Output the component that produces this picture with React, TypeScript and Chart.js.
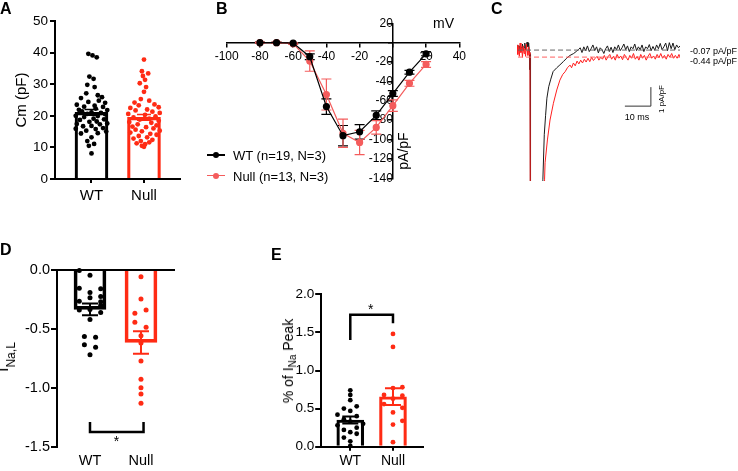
import React, { useEffect, useRef } from 'react';
import { Chart, registerables } from 'chart.js';

Chart.register(...registerables);

const FONT = "'Liberation Sans', Arial, Helvetica, sans-serif";
Chart.defaults.font.family = FONT;
Chart.defaults.color = '#000';

const BLACK = '#000000';
const RED = '#ff2b14';
const SALMON = '#f45c5c';
const TRACE_RED = '#ff1f1f';

const GROUPS = ['WT', 'Null'];

// ---------- Panel A : Cm (pF) ----------
const cmWT = [
  39.6, 39.1, 38.5, 32.4, 31.7, 29.8, 29.1, 27.1, 26.5, 25.9,
  25.6, 24.8, 24.4, 24.1, 23.5, 23.2, 22.9, 22.8, 22.3, 21.9,
  21.8, 21.4, 21.1, 20.9, 20.6, 20.5, 20.0, 19.9, 19.6, 19.1,
  18.9, 18.7, 18.2, 18.1, 17.6, 17.4, 17.3, 16.8, 16.7, 16.1,
  15.9, 15.8, 15.3, 15.0, 14.4, 14.5, 13.2, 12.0, 11.1, 10.5,
  8.1,
];
const cmWTOff = [
  -0.06, 0.02, 0.10, -0.04, 0.04, -0.08, 0.06, -0.10, 0.12, 0.20,
  -0.20, 0.14, -0.06, 0.26, -0.28, 0.06, -0.14, 0.22, 0.08, -0.24,
  0.30, -0.18, 0.00, 0.18, -0.08, 0.26, -0.30, 0.12, -0.14, 0.04,
  0.24, -0.22, 0.10, -0.04, 0.30, -0.28, 0.16, 0.00, -0.16, 0.22,
  -0.30, 0.08, -0.10, 0.28, -0.20, 0.12, 0.00, -0.08, 0.05, -0.05,
  0.00,
];
const cmNull = [
  37.8, 34.1, 33.4, 32.6, 31.4, 30.3, 29.1, 27.6, 25.3, 24.8,
  24.2, 23.6, 23.3, 22.7, 22.5, 22.0, 21.7, 21.3, 20.9, 20.6,
  20.3, 19.8, 19.5, 19.1, 18.8, 18.4, 18.0, 17.8, 17.3, 17.0,
  16.6, 16.4, 16.0, 15.6, 15.3, 15.1, 14.7, 14.3, 14.0, 13.6,
  13.2, 12.8, 12.4, 12.0, 11.6, 11.3, 11.0, 10.5, 10.2,
];
const cmNullOff = [
  0.00, -0.04, 0.08, -0.02, 0.02, -0.08, 0.04, 0.00, -0.06, 0.10,
  -0.18, 0.20, -0.10, 0.28, -0.26, 0.06, -0.16, 0.16, 0.30, -0.30,
  0.02, 0.22, -0.20, 0.10, -0.08, 0.28, -0.28, 0.14, -0.12, 0.24,
  -0.22, 0.04, 0.18, -0.16, 0.30, -0.04, -0.26, 0.12, 0.24, -0.10,
  0.06, -0.20, 0.16, -0.06, 0.10, -0.14, 0.02, -0.04, 0.00,
];
const cmMeans = [21.1, 19.5];
const cmSems = [0.9, 0.9];

// ---------- Panel B : I-V curve ----------
const voltages = [-80, -70, -60, -50, -40, -30, -20, -10, 0, 10, 20];
const ivWT = [0, 0, -0.5, -14.5, -66, -96, -92, -75, -52.5, -30.5, -11.5];
const ivWTErr = [0.5, 0.5, 0.5, 3, 8, 10.5, 7.5, 4.5, 3, 2, 2];
const ivNull = [0, 0, -1, -19, -53.5, -93.5, -103, -87.5, -65, -42, -22.5];
const ivNullErr = [0.5, 0.5, 0.8, 10.5, 16, 14.5, 12.5, 7, 6, 3, 3];
const ivXTicks = [-100, -80, -60, -40, -20, 0, 20, 40];
const ivYTicks = [20, 0, -20, -40, -60, -80, -100, -120, -140];

// ---------- Panel C : late current traces (t ms, pA/pF) ----------
const traceWT: [number, number][] = [
  [0, 0.05], [0.3, 0.2], [0.6, -0.1], [0.9, 0.15], [1.2, -0.15], [1.5, 0.1], [1.8, -0.05], [2.1, 0.25],
  [2.4, -0.1], [2.7, 0.05], [3.0, 0.3], [3.3, -0.05], [3.6, 0.2], [3.9, 0.35], [4.2, 0.1], [4.5, 0.3],
  [4.8, -0.2], [4.95, -1.1], [5.05, -0.3], [5.2, -12], [9.6, -12],
  [9.95, -6.9], [10.5, -4.5], [11.0, -3.5], [11.5, -2.6], [12.2, -2.0], [13.0, -1.6], [13.9, -1.2],
  [15.3, -1.0], [16.5, -0.85], [17.8, -0.68], [19.1, -0.5], [20.4, -0.35], [21.8, -0.25], [23.0, -0.12],
  [23.6, -0.05], [24.3, 0.05], [25.0, -0.2], [25.7, 0.1], [26.4, -0.1], [27.1, 0.15], [27.8, -0.15],
  [28.5, 0.0], [29.2, 0.2], [29.9, -0.1], [30.6, 0.1], [31.3, -0.22], [32.0, 0.05], [32.7, -0.05],
  [33.4, -0.25], [34.1, 0.0], [34.8, 0.15], [35.5, -0.15], [36.2, 0.08], [36.9, -0.2], [37.6, 0.1],
  [38.3, -0.05], [39.0, 0.2], [39.7, -0.1], [40.4, 0.05], [41.1, 0.25], [41.8, -0.05], [42.5, 0.15],
  [43.2, -0.15], [43.9, 0.1], [44.6, 0.0], [45.3, 0.25], [46.0, -0.1], [46.7, 0.1], [47.4, -0.05],
  [48.1, 0.2], [48.8, -0.15], [49.5, 0.1], [50.2, 0.0], [50.9, 0.22], [51.6, -0.1], [52.3, 0.12],
  [53.0, -0.08], [53.7, 0.2], [54.4, 0.0], [55.1, 0.28], [55.8, -0.05], [56.5, 0.1], [57.2, 0.3],
  [57.9, -0.1], [58.6, 0.32], [59.3, 0.0], [60.0, 0.3], [60.7, -0.05], [61.4, 0.2], [62.1, 0.05], [62.7, 0.15],
];
const traceNull: [number, number][] = [
  [0, 0.2], [0.3, -0.3], [0.6, 0.1], [0.9, -0.4], [1.2, 0.3], [1.5, -0.2], [1.8, 0.05], [2.1, -0.45],
  [2.4, 0.15], [2.7, -0.25], [3.0, 0.0], [3.3, -0.4], [3.6, 0.25], [3.9, -0.1], [4.2, -0.35], [4.5, 0.1],
  [4.8, -0.3], [5.0, -0.2], [5.15, -12], [10.3, -12],
  [10.6, -6.9], [10.8, -6.0], [11.7, -4.8], [12.7, -3.75], [14.0, -2.87], [15.3, -2.17], [16.5, -1.65],
  [17.6, -1.35], [18.5, -1.21], [19.4, -1.0], [20.4, -0.86], [21.0, -1.0], [21.7, -0.75], [22.4, -0.9],
  [23.1, -0.65], [23.8, -0.8], [24.5, -0.6], [25.2, -0.75], [25.9, -0.55], [26.6, -0.7], [27.3, -0.5],
  [28.0, -0.68], [28.7, -0.45], [29.4, -0.62], [30.1, -0.5], [30.8, -0.4], [31.5, -0.6], [32.2, -0.45],
  [32.9, -0.55], [33.6, -0.35], [34.3, -0.6], [35.0, -0.42], [35.7, -0.3], [36.4, -0.55], [37.1, -0.4],
  [37.8, -0.6], [38.5, -0.3], [39.2, -0.5], [39.9, -0.38], [40.6, -0.58], [41.3, -0.3], [42.0, -0.45],
  [42.7, -0.6], [43.4, -0.35], [44.1, -0.5], [44.8, -0.25], [45.5, -0.55], [46.2, -0.4], [46.9, -0.6],
  [47.6, -0.3], [48.3, -0.5], [49.0, -0.35], [49.7, -0.6], [50.4, -0.4], [51.1, -0.25], [51.8, -0.5],
  [52.5, -0.38], [53.2, -0.55], [53.9, -0.3], [54.6, -0.48], [55.3, -0.25], [56.0, -0.5], [56.7, -0.35],
  [57.4, -0.55], [58.1, -0.3], [58.8, -0.45], [59.5, -0.25], [60.2, -0.5], [60.9, -0.35], [61.6, -0.5],
  [62.3, -0.3], [62.7, -0.45],
];
const lateLevels = [-0.07, -0.44];
const lateLabels = ['-0.07 pA/pF', '-0.44 pA/pF'];
const scaleBarMs = 10;
const scaleBarAmp = 1;

// ---------- Panel D : I Na,L ----------
const inalWT = [-0.005, -0.045, -0.155, -0.16, -0.19, -0.225, -0.235, -0.265, -0.27, -0.30,
  -0.335, -0.34, -0.36, -0.42, -0.565, -0.57, -0.635, -0.655, -0.72];
const inalWTOff = [-0.21, 0, -0.21, 0.21, 0, 0.21, 0, -0.21, 0.21, 0.21,
  0, -0.21, 0.21, 0, -0.11, 0.11, -0.11, 0.11, 0];
const inalNull = [-0.057, -0.246, -0.34, -0.368, -0.444, -0.487, -0.558, -0.62, -0.773, -0.928,
  -0.999, -1.053, -1.132];
const inalNullOff = [0, 0, 0.1, -0.12, -0.12, 0.1, 0, 0, 0, 0, 0, 0, 0];
const inalMeans = [-0.334, -0.615];
const inalSems = [0.05, 0.095];

// ---------- Panel E : % of INa peak ----------
const pctWT = [0.74, 0.68, 0.61, 0.53, 0.50, 0.47, 0.42, 0.40, 0.36, 0.33,
  0.30, 0.28, 0.25, 0.22, 0.19, 0.17, 0.12, 0.07, 0.01];
const pctWTOff = [0, 0, 0, 0.15, -0.15, 0, -0.3, 0.15, -0.15, 0,
  0.3, -0.3, 0.15, -0.15, 0, 0.15, -0.15, 0, 0];
const pctNull = [1.48, 1.31, 0.78, 0.77, 0.68, 0.67, 0.63, 0.56, 0.51, 0.45, 0.34, 0.29, 0.06];
const pctNullOff = [0, 0, 0.22, 0, -0.21, 0.22, 0, -0.21, 0.22, 0, 0.22, 0, 0];
const pctMeans = [0.35, 0.656];
const pctSems = [0.045, 0.11];

// ---------- helpers ----------
type BarOpts = {
  wt: number[]; wtOff: number[]; nu: number[]; nuOff: number[];
  means: number[]; sems: number[];
  xMin: number; xMax: number; yMin: number; yMax: number; yStep: number; yDigits: number;
  pad: { left: number; right: number; top: number; bottom: number };
  yWidth: number; xHeight: number;
  tickSize: number; labelSize: number;
  yTickLen: number; yPad: number; xTickLen: number; xPad: number; xTicks: boolean; xBorder: boolean;
  axisWidth: number; barThickness: number; barBorder: number; pointRadius: number; cap: number; errWidth: number;
  zeroLine?: boolean;
  bracket?: number[][]; starAt?: number[];
  yTitle?: any;
};

function barConfig(o: BarOpts): any {
  const scatter = (vals: number[], offs: number[], gi: number, color: string) => ({
    type: 'scatter',
    data: vals.map((v, i) => ({ x: gi + (offs[i] ?? 0), y: v })),
    backgroundColor: color,
    borderColor: color,
    borderWidth: 0,
    pointRadius: o.pointRadius,
    pointHoverRadius: o.pointRadius,
    clip: false,
  });
  return {
    type: 'bar',
    data: {
      datasets: [
        scatter(o.wt, o.wtOff, 0, BLACK),
        scatter(o.nu, o.nuOff, 1, RED),
        {
          type: 'bar',
          data: o.means.map((m, i) => ({ x: i, y: m })),
          backgroundColor: 'rgba(255,255,255,0)',
          borderColor: [BLACK, RED],
          borderWidth: o.barBorder,
          borderSkipped: 'start',
          barThickness: o.barThickness,
          grouped: false,
        },
      ],
    },
    options: {
      responsive: false,
      animation: false,
      devicePixelRatio: 1,
      events: [],
      layout: { padding: o.pad },
      plugins: { legend: { display: false }, tooltip: { enabled: false } },
      scales: {
        x: {
          type: 'linear',
          offset: false,
          min: o.xMin,
          max: o.xMax,
          afterFit: (s: any) => { s.height = o.xHeight; },
          afterBuildTicks: (s: any) => { s.ticks = GROUPS.map((_, i) => ({ value: i })); },
          ticks: {
            callback: (v: any) => GROUPS[v] ?? '',
            font: { size: o.labelSize },
            color: '#000',
            padding: o.xPad,
            maxRotation: 0,
            autoSkip: false,
          },
          grid: {
            display: o.xTicks,
            offset: false,
            drawOnChartArea: false,
            drawTicks: o.xTicks,
            tickLength: o.xTickLen,
            color: '#000',
            lineWidth: o.axisWidth,
          },
          border: { display: o.xBorder, color: '#000', width: o.axisWidth },
        },
        y: {
          type: 'linear',
          min: o.yMin,
          max: o.yMax,
          afterFit: (s: any) => { s.width = o.yWidth; },
          ticks: {
            stepSize: o.yStep,
            callback: (v: any) => Number(v).toFixed(o.yDigits),
            font: { size: o.tickSize },
            color: '#000',
            padding: o.yPad,
          },
          grid: {
            drawOnChartArea: false,
            drawTicks: true,
            tickLength: o.yTickLen,
            color: '#000',
            lineWidth: o.axisWidth,
          },
          border: { display: true, color: '#000', width: o.axisWidth },
          title: o.yTitle ?? { display: false },
        },
      },
    },
    plugins: [
      {
        id: 'barOverlay',
        afterDatasetsDraw(chart: any) {
          const { ctx, scales, chartArea } = chart;
          const xs = scales.x;
          const ys = scales.y;
          ctx.save();
          if (o.zeroLine) {
            const y0 = ys.getPixelForValue(0);
            ctx.strokeStyle = '#000';
            ctx.lineWidth = o.axisWidth;
            ctx.beginPath();
            ctx.moveTo(chartArea.left, y0);
            ctx.lineTo(chartArea.right, y0);
            ctx.stroke();
          }
          o.means.forEach((m, i) => {
            const px = xs.getPixelForValue(i);
            const y1 = ys.getPixelForValue(m - o.sems[i]);
            const y2 = ys.getPixelForValue(m + o.sems[i]);
            ctx.strokeStyle = i === 0 ? BLACK : RED;
            ctx.lineWidth = o.errWidth;
            ctx.beginPath();
            ctx.moveTo(px, y1);
            ctx.lineTo(px, y2);
            ctx.moveTo(px - o.cap / 2, y1);
            ctx.lineTo(px + o.cap / 2, y1);
            ctx.moveTo(px - o.cap / 2, y2);
            ctx.lineTo(px + o.cap / 2, y2);
            ctx.stroke();
          });
          if (o.bracket) {
            ctx.strokeStyle = '#000';
            ctx.lineWidth = 2.5;
            ctx.lineJoin = 'miter';
            ctx.beginPath();
            o.bracket.forEach((p, k) => {
              const px = xs.getPixelForValue(p[0]);
              const py = ys.getPixelForValue(p[1]);
              if (k === 0) ctx.moveTo(px, py); else ctx.lineTo(px, py);
            });
            ctx.stroke();
          }
          if (o.starAt) {
            ctx.fillStyle = '#000';
            ctx.font = `14px ${FONT}`;
            ctx.textAlign = 'center';
            ctx.textBaseline = 'alphabetic';
            ctx.fillText('*', xs.getPixelForValue(o.starAt[0]), ys.getPixelForValue(o.starAt[1]) + 8);
          }
          ctx.restore();
        },
      },
    ],
  };
}

function ivConfig(): any {
  const mk = (vals: number[], errs: number[], color: string, label: string) => ({
    label,
    data: voltages.map((v, i) => ({ x: v, y: vals[i] })),
    errors: errs,
    borderColor: color,
    backgroundColor: color,
    pointBackgroundColor: color,
    pointBorderColor: color,
    borderWidth: 1.2,
    pointRadius: 3,
    pointHoverRadius: 3,
    tension: 0,
    clip: false,
  });
  return {
    type: 'line',
    data: {
      datasets: [
        mk(ivWT, ivWTErr, BLACK, 'WT (n=19, N=3)'),
        mk(ivNull, ivNullErr, SALMON, 'Null (n=13, N=3)'),
      ],
    },
    options: {
      responsive: false,
      animation: false,
      devicePixelRatio: 1,
      events: [],
      layout: { padding: { left: 36.7, right: 30.7, top: 23.3, bottom: 21.7 } },
      plugins: { legend: { display: false }, tooltip: { enabled: false } },
      scales: {
        x: {
          type: 'linear',
          position: { y: 0 },
          min: ivXTicks[0],
          max: ivXTicks[ivXTicks.length - 1],
          afterFit: (s: any) => { s.height = 0; },
          afterBuildTicks: (s: any) => { s.ticks = ivXTicks.map((v) => ({ value: v })); },
          ticks: {
            callback: (v: any) => (v === 0 ? '' : String(v)),
            font: { size: 12 },
            color: '#000',
            padding: 2.5,
            maxRotation: 0,
            autoSkip: false,
          },
          grid: { drawOnChartArea: false, drawTicks: true, tickLength: 4, color: '#000', lineWidth: 1.5 },
          border: { display: true, color: '#000', width: 1.5 },
        },
        y: {
          type: 'linear',
          position: { x: 0 },
          min: ivYTicks[ivYTicks.length - 1],
          max: ivYTicks[0],
          afterFit: (s: any) => { s.width = 0; },
          afterBuildTicks: (s: any) => { s.ticks = ivYTicks.map((v) => ({ value: v })); },
          ticks: {
            callback: (v: any) => (v === 0 ? '' : String(v)),
            font: { size: 12 },
            color: '#000',
            padding: 1,
            autoSkip: false,
          },
          grid: { drawOnChartArea: false, drawTicks: true, tickLength: 4, color: '#000', lineWidth: 1.5 },
          border: { display: true, color: '#000', width: 1.5 },
        },
      },
    },
    plugins: [
      {
        id: 'errorBars',
        beforeDatasetsDraw(chart: any) {
          const { ctx } = chart;
          const ys = chart.scales.y;
          ctx.save();
          chart.data.datasets.forEach((ds: any, di: number) => {
            const meta = chart.getDatasetMeta(di);
            ctx.strokeStyle = ds.borderColor;
            ctx.lineWidth = 1.2;
            meta.data.forEach((pt: any, i: number) => {
              const v = ds.data[i].y;
              const e = ds.errors[i];
              const y1 = ys.getPixelForValue(v - e);
              const y2 = ys.getPixelForValue(v + e);
              ctx.beginPath();
              ctx.moveTo(pt.x, y1);
              ctx.lineTo(pt.x, y2);
              ctx.moveTo(pt.x - 5, y1);
              ctx.lineTo(pt.x + 5, y1);
              ctx.moveTo(pt.x - 5, y2);
              ctx.lineTo(pt.x + 5, y2);
              ctx.stroke();
            });
          });
          ctx.restore();
        },
      },
    ],
  };
}

function traceConfig(): any {
  const tEnd = traceWT[traceWT.length - 1][0];
  const barX = 51.5;
  const barY = -3.02;
  return {
    type: 'line',
    data: {
      datasets: [
        {
          data: [{ x: 0.4, y: lateLevels[0] }, { x: tEnd, y: lateLevels[0] }],
          borderColor: '#666666', borderWidth: 1, borderDash: [5, 3], pointRadius: 0,
        },
        {
          data: [{ x: 0.4, y: lateLevels[1] }, { x: tEnd, y: lateLevels[1] }],
          borderColor: '#ff6060', borderWidth: 1, borderDash: [5, 3], pointRadius: 0,
        },
        {
          data: [
            { x: barX - scaleBarMs, y: barY },
            { x: barX, y: barY },
            { x: barX, y: barY + scaleBarAmp },
          ],
          borderColor: '#333333', borderWidth: 1, pointRadius: 0, tension: 0,
        },
        {
          data: traceNull.map(([x, y]) => ({ x, y })),
          borderColor: TRACE_RED, borderWidth: 1, pointRadius: 0, tension: 0,
        },
        {
          data: traceWT.map(([x, y]) => ({ x, y })),
          borderColor: '#1a1a1a', borderWidth: 1, pointRadius: 0, tension: 0,
        },
      ],
    },
    options: {
      responsive: false,
      animation: false,
      devicePixelRatio: 1,
      events: [],
      layout: { padding: { left: 27, right: 58, top: 40, bottom: 19 } },
      plugins: { legend: { display: false }, tooltip: { enabled: false } },
      scales: {
        x: { type: 'linear', min: 0, max: tEnd, display: false },
        y: { type: 'linear', min: -6.96, max: 0.46, display: false },
      },
    },
  };
}

function ChartBox(props: { left: number; top: number; width: number; height: number; config: () => any }) {
  const ref = useRef<HTMLCanvasElement | null>(null);
  useEffect(() => {
    if (!ref.current) return;
    const chart = new Chart(ref.current, props.config());
    return () => chart.destroy();
  }, []);
  return (
    <div style={{ position: 'absolute', left: props.left, top: props.top, width: props.width, height: props.height }}>
      <canvas
        ref={ref}
        width={props.width}
        height={props.height}
        style={{ width: props.width, height: props.height, display: 'block' }}
      />
    </div>
  );
}

function Txt(props: {
  x: number; y: number; size: number; bold?: boolean; color?: string;
  align?: 'left' | 'center' | 'right'; rotate?: boolean; children: any;
}) {
  const { x, y, size, bold, color = '#000', align = 'left', rotate } = props;
  const tx = align === 'left' ? '0' : align === 'center' ? '-50%' : '-100%';
  const transform = rotate ? 'translate(-50%,-50%) rotate(-90deg)' : `translate(${tx},-50%)`;
  return (
    <div
      style={{
        position: 'absolute', left: x, top: y, fontFamily: FONT, fontSize: size,
        fontWeight: bold ? 'bold' : 'normal', color, lineHeight: 1, whiteSpace: 'nowrap', transform,
      }}
    >
      {props.children}
    </div>
  );
}

function LegendItem(props: { x: number; y: number; color: string; text: string }) {
  const { x, y, color, text } = props;
  return (
    <>
      <div style={{ position: 'absolute', left: x, top: y - 0.6, width: 18, height: 1.2, background: color }} />
      <div style={{ position: 'absolute', left: x + 6, top: y - 3, width: 6, height: 6, borderRadius: 3, background: color }} />
      <Txt x={x + 26} y={y} size={13}>{text}</Txt>
    </>
  );
}

export default function App() {
  const configA = () =>
    barConfig({
      wt: cmWT, wtOff: cmWTOff, nu: cmNull, nuOff: cmNullOff, means: cmMeans, sems: cmSems,
      xMin: -0.695, xMax: 1.686, yMin: 0, yMax: 50, yStep: 10, yDigits: 0,
      pad: { left: 0, right: 10, top: 21, bottom: 0 }, yWidth: 55, xHeight: 31,
      tickSize: 13.5, labelSize: 15, yTickLen: 5, yPad: 2, xTickLen: 4, xPad: 4, xTicks: true, xBorder: true,
      axisWidth: 2, barThickness: 33, barBorder: 2.5, pointRadius: 2.4, cap: 14, errWidth: 1.5,
      yTitle: { display: true, text: 'Cm (pF)', font: { size: 15 }, color: '#000', padding: { top: 13, bottom: 0 } },
    });
  const configD = () =>
    barConfig({
      wt: inalWT, wtOff: inalWTOff, nu: inalNull, nuOff: inalNullOff, means: inalMeans, sems: inalSems,
      xMin: -0.647, xMax: 1.667, yMin: -1.5, yMax: 0, yStep: 0.5, yDigits: 1,
      pad: { left: 0, right: 15, top: 30, bottom: 0 }, yWidth: 57, xHeight: 24.3,
      tickSize: 14.5, labelSize: 14.5, yTickLen: 6, yPad: 1, xTickLen: 0, xPad: 6, xTicks: false, xBorder: false,
      axisWidth: 2, barThickness: 32, barBorder: 3, pointRadius: 2.5, cap: 16, errWidth: 2,
      zeroLine: true,
      bracket: [[0, -1.29], [0, -1.375], [1.05, -1.375], [1.05, -1.29]],
      starAt: [0.52, -1.43],
    });
  const configE = () =>
    barConfig({
      wt: pctWT, wtOff: pctWTOff, nu: pctNull, nuOff: pctNullOff, means: pctMeans, sems: pctSems,
      xMin: -0.693, xMax: 1.71, yMin: 0, yMax: 2, yStep: 0.5, yDigits: 1,
      pad: { left: 0, right: 16.7, top: 54.3, bottom: 0 }, yWidth: 80.7, xHeight: 24.3,
      tickSize: 13.5, labelSize: 14, yTickLen: 5.5, yPad: 1, xTickLen: 4, xPad: 2, xTicks: true, xBorder: true,
      axisWidth: 2, barThickness: 27, barBorder: 2.5, pointRadius: 2.4, cap: 16, errWidth: 2,
      bracket: [[0, 1.4], [0, 1.73], [1, 1.73], [1, 1.62]],
      starAt: [0.48, 1.84],
    });

  return (
    <div style={{ position: 'absolute', left: 0, top: 0, width: 738, height: 471, background: '#fff', overflow: 'hidden' }}>
      <ChartBox left={0} top={0} width={190} height={210} config={configA} />
      <ChartBox left={190} top={0} width={300} height={200} config={ivConfig} />
      <ChartBox left={490} top={0} width={248} height={200} config={traceConfig} />
      <ChartBox left={0} top={240} width={190} height={231} config={configD} />
      <ChartBox left={240} top={240} width={200} height={231} config={configE} />

      {/* panel letters */}
      <Txt x={0} y={9} size={16} bold>A</Txt>
      <Txt x={216} y={8.5} size={16} bold>B</Txt>
      <Txt x={491} y={9} size={16} bold>C</Txt>
      <Txt x={0} y={250} size={16} bold>D</Txt>
      <Txt x={271} y={255} size={16} bold>E</Txt>

      {/* panel B texts */}
      <Txt x={433} y={22.5} size={14}>mV</Txt>
      <Txt x={402.5} y={151} size={14} rotate>pA/pF</Txt>
      <LegendItem x={207} y={155} color={BLACK} text="WT (n=19, N=3)" />
      <LegendItem x={207} y={175.5} color={SALMON} text="Null (n=13, N=3)" />

      {/* panel C texts */}
      <Txt x={690} y={51} size={9}>{lateLabels[0]}</Txt>
      <Txt x={690} y={61.2} size={9}>{lateLabels[1]}</Txt>
      <Txt x={637} y={116.5} size={9} align="center">10 ms</Txt>
      <Txt x={661.7} y={99} size={8} rotate>1 pA/pF</Txt>

      {/* panel D title */}
      <Txt x={3} y={357} size={16} rotate>
        I<span style={{ fontSize: 12, position: 'relative', top: 7 }}>Na,L</span>
      </Txt>

      {/* panel E title */}
      <Txt x={288.2} y={360.5} size={14} rotate>
        % of I<span style={{ fontSize: 10, position: 'relative', top: 3 }}>Na</span> Peak
      </Txt>
    </div>
  );
}
